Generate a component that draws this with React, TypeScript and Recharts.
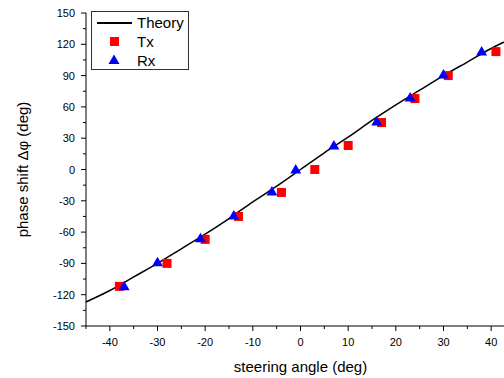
import { ComposedChart, Line, Scatter, XAxis, YAxis, Legend } from 'recharts'

// theory curve, every 5 deg
const theoryAngle = [-45, -40, -35, -30, -25, -20, -15, -10, -5, 0, 5, 10, 15, 20, 25, 30, 35, 40, 45]
const theoryPhase = [-127, -116, -103, -90, -76, -62, -47, -31, -16, 0, 16, 31, 47, 62, 76, 90, 103, 116, 127]

const txAngle = [-38, -28, -20, -13, -4, 3, 10, 17, 24, 31, 41]
const txPhase = [-112, -90, -67, -45, -22, 0, 23, 45, 68, 90, 113]

const rxAngle = [-37, -30, -21, -14, -6, -1, 7, 16, 23, 30, 38]
const rxPhase = [-112, -89, -66, -44, -21, 0, 23, 46, 69, 91, 113]

const xTicks = [-45, -40, -35, -30, -25, -20, -15, -10, -5, 0, 5, 10, 15, 20, 25, 30, 35, 40, 45]
const yTicks = [-150, -135, -120, -105, -90, -75, -60, -45, -30, -15, 0, 15, 30, 45, 60, 75, 90, 105, 120, 135, 150]

const theory = theoryAngle.map((x, i) => ({ x, y: theoryPhase[i] }))
const tx = txAngle.map((x, i) => ({ x, y: txPhase[i] }))
const rx = rxAngle.map((x, i) => ({ x, y: rxPhase[i] }))

const FONT = '"Liberation Sans", Arial, sans-serif'

const XTick = (props: any) => {
  const { x, y, payload } = props
  const major = payload.value % 10 === 0
  return (
    <g>
      <line x1={x} x2={x} y1={y} y2={y + (major ? 5 : 3)} stroke="#000" />
      {major && (
        <text x={x} y={y + 20} textAnchor="middle" fontSize={11} fill="#000" fontFamily={FONT}>
          {payload.value}
        </text>
      )}
    </g>
  )
}

const YTick = (props: any) => {
  const { x, y, payload } = props
  const major = payload.value % 30 === 0
  return (
    <g>
      <line x1={x} x2={x - (major ? 5 : 3)} y1={y} y2={y} stroke="#000" />
      {major && (
        <text x={x - 11} y={y + 4} textAnchor="end" fontSize={11} fill="#000" fontFamily={FONT}>
          {payload.value}
        </text>
      )}
    </g>
  )
}

const Square = (props: any) => {
  const { cx, cy } = props
  return <rect x={cx - 4.5} y={cy - 4.5} width={9} height={9} fill="#ff0000" />
}

const Triangle = (props: any) => {
  const { cx, cy } = props
  return <polygon points={`${cx},${cy - 5.5} ${cx + 5.5},${cy + 4} ${cx - 5.5},${cy + 4}`} fill="#0000ff" />
}

const LegendBox = () => (
  <div style={{ position: 'relative', width: 96, height: 57, border: '1px solid #333', background: '#fff', fontFamily: FONT, fontSize: 15, color: '#000' }}>
    <div style={{ position: 'absolute', left: 5, top: 10, width: 35, height: 1.5, background: '#000' }} />
    <div style={{ position: 'absolute', left: 45, top: 1, lineHeight: '19px' }}>Theory</div>
    <div style={{ position: 'absolute', left: 18, top: 25, width: 9, height: 9, background: '#ff0000' }} />
    <div style={{ position: 'absolute', left: 45, top: 20, lineHeight: '19px' }}>Tx</div>
    <svg style={{ position: 'absolute', left: 16, top: 42 }} width={12} height={11}>
      <polygon points="6,0.5 11.5,10 0.5,10" fill="#0000ff" />
    </svg>
    <div style={{ position: 'absolute', left: 45, top: 39, lineHeight: '19px' }}>Rx</div>
  </div>
)

export default function App() {
  return (
    <div style={{ position: 'fixed', left: 0, top: 0, width: 504, height: 378, overflow: 'hidden', background: '#fff' }}>
      <ComposedChart width={515} height={378} margin={{ top: 13, right: 0, left: 0, bottom: 0 }}>
        <XAxis
          type="number"
          dataKey="x"
          domain={[-45, 45]}
          ticks={xTicks}
          interval={0}
          height={52}
          tickSize={0}
          tickMargin={0}
          tickLine={false}
          stroke="#000"
          tick={<XTick />}
          label={{
            content: (p: any) => (
              <text x={p.viewBox.x + p.viewBox.width / 2} y={372} textAnchor="middle" fontSize={15} fontFamily={FONT} fill="#000">
                steering angle (deg)
              </text>
            ),
          }}
        />
        <YAxis
          type="number"
          dataKey="y"
          domain={[-150, 150]}
          ticks={yTicks}
          interval={0}
          width={86}
          tickSize={0}
          tickMargin={0}
          tickLine={false}
          stroke="#000"
          tick={<YTick />}
          label={{
            content: (p: any) => {
              const cy = p.viewBox.y + p.viewBox.height / 2
              return (
                <text x={28} y={cy} transform={`rotate(-90, 28, ${cy})`} textAnchor="middle" fontSize={15} fontFamily={FONT} fill="#000">
                  phase shift Δφ (deg)
                </text>
              )
            },
          }}
        />
        <Legend layout="vertical" align="center" verticalAlign="middle" content={<LegendBox />} wrapperStyle={{ left: 91, top: 11, width: 98, height: 59 }} />
        <Line data={theory} dataKey="y" type="monotone" stroke="#000" strokeWidth={1.5} dot={false} isAnimationActive={false} />
        <Scatter data={tx} dataKey="y" shape={<Square />} isAnimationActive={false} />
        <Scatter data={rx} dataKey="y" shape={<Triangle />} isAnimationActive={false} />
      </ComposedChart>
    </div>
  )
}
